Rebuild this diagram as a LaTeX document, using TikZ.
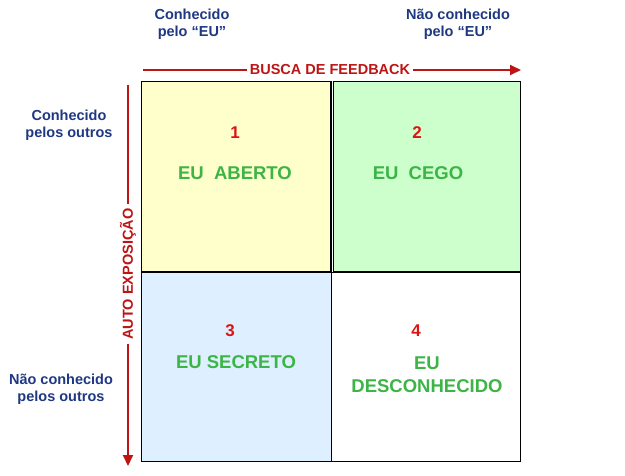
\documentclass[tikz,border=0pt]{standalone}
\usepackage{fontspec}
\setmainfont{Liberation Sans}
\usetikzlibrary{arrows.meta}
\definecolor{hdblue}{RGB}{31,56,130}
\definecolor{numred}{RGB}{220,20,20}
\definecolor{arrred}{RGB}{190,20,20}
\definecolor{txtgreen}{RGB}{60,180,70}
\definecolor{qyellow}{RGB}{255,255,204}
\definecolor{qgreen}{RGB}{204,255,204}
\definecolor{qblue}{RGB}{222,240,255}
\tikzset{
  quad/.style={draw=black,line width=1.3pt,minimum width=190pt,minimum height=190pt,inner sep=0pt,anchor=north west},
  head/.style={text=hdblue,font=\fontsize{14.5}{17}\selectfont\bfseries,align=center},
  num/.style={text=numred,font=\fontsize{17}{20}\selectfont\bfseries},
  qlabel/.style={text=txtgreen,font=\fontsize{18.5}{23}\selectfont\bfseries,align=center},
  axis/.style={draw=arrred,line width=2pt,-{Triangle[length=11pt,width=10pt]}},
  axlabel/.style={text=arrred,font=\fontsize{14.5}{17}\selectfont\bfseries,fill=white,inner sep=3pt}
}
\begin{document}
\begin{tikzpicture}[x=1pt,y=-1pt]
\useasboundingbox (0,0) rectangle (625,475);
% quadrants
\node[quad,fill=qyellow] (q1) at (141,81) {};
\node[quad,fill=qgreen,minimum width=189pt] (q2) at (331,81) {};
\node[quad,fill=qblue] (q3) at (141,271) {};
\node[quad,fill=white,minimum width=189pt] (q4) at (331,271) {};
% double line in top row
\draw[line width=1.2pt] ([xshift=-1.8pt]q1.north east) -- ([xshift=-1.8pt]q1.south east);
\draw[white,line width=1pt] ([xshift=-0.3pt]q1.north east) -- ([xshift=-0.3pt]q1.south east);
\draw[line width=1.2pt] ([xshift=1.2pt]q1.north east) -- ([xshift=1.2pt]q1.south east);
\draw[line width=1.3pt] (q1.south west) -- (q2.south east);
% headings
\node[head] (h1) at (192,24) {Conhecido\\pelo “EU”};
\node[head] (h2) at (458,24) {Não conhecido\\pelo “EU”};
\node[head] (h3) at (69,125) {Conhecido\\pelos outros};
\node[head] (h4) at (61,389) {Não conhecido\\pelos outros};
% axes
\coordinate (ta) at (143,70);
\coordinate (tb) at (521,70);
\draw[axis] (ta) -- (tb);
\node[axlabel] (tl) at (330,70) {BUSCA DE FEEDBACK};
\coordinate (la) at (128,85);
\coordinate (lb) at (128,466);
\draw[axis] (la) -- (lb);
\node[axlabel,rotate=90,inner xsep=4pt,inner ysep=1pt] (ll) at (128,274) {AUTO EXPOSIÇÃO};
% quadrant texts
\node[num] (n1) at (235,133) {1};
\node[qlabel] (t1) at (235,173) {EU\ \ ABERTO};
\node[num] (n2) at (417,133) {2};
\node[qlabel] (t2) at (418,173) {EU\ \ CEGO};
\node[num] (n3) at (230,331) {3};
\node[qlabel] (t3) at (236,362) {EU SECRETO};
\node[num] (n4) at (416,331) {4};
\node[qlabel] (t4) at (427,375) {EU\\DESCONHECIDO};
\end{tikzpicture}
\end{document}
